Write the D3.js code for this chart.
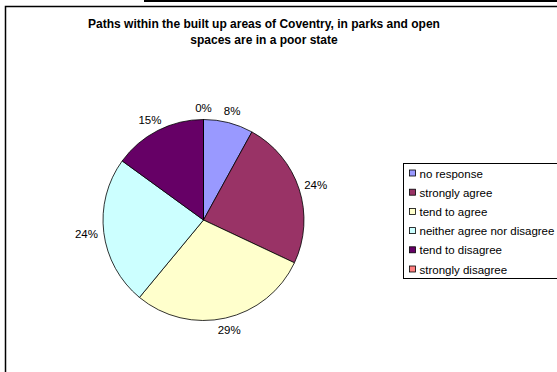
<!DOCTYPE html>
<html>
<head>
<meta charset="utf-8">
<script src="https://cdn.jsdelivr.net/npm/d3@7"></script>
<style>
  html, body { margin: 0; padding: 0; background: #fff; }
  svg { display: block; font-family: Arial, "Liberation Sans", sans-serif; }
</style>
</head>
<body>
<svg id="chart" width="557" height="372"></svg>
<script>
// Survey responses, in percent
const categories = ["no response", "strongly agree", "tend to agree",
                    "neither agree nor disagree", "tend to disagree", "strongly disagree"];
const values = [8, 24, 29, 24, 15, 0];
const colors = ["#9999FF", "#993366", "#FFFFCC", "#CCFFFF", "#660066", "#FF8080"];
const titleLines = ["Paths within the built up areas of Coventry, in parks and open",
                    "spaces are in a poor state"];

const svg = d3.select("#chart");

// page decoration: top rule and the chart frame
svg.append("rect").attr("x", 144).attr("y", 0).attr("width", 413).attr("height", 2).attr("fill", "#000");
svg.append("rect").attr("x", 5.5).attr("y", 6.5).attr("width", 600).attr("height", 400)
  .attr("fill", "#fff").attr("stroke", "#000").attr("stroke-width", 1.5);

// title
svg.append("text").attr("x", 264).attr("y", 28).attr("text-anchor", "middle")
  .attr("font-size", 12).attr("font-weight", "bold")
  .selectAll("tspan").data(titleLines).join("tspan")
  .attr("x", 264).attr("dy", (d, i) => i === 0 ? 0 : 16).text(d => d);

// pie
const cx = 203.5, cy = 220, r = 100.5;
const data = categories.map((c, i) => ({ cat: c, value: values[i], color: colors[i] }));
const pie = d3.pie().value(d => d.value).sort(null);
const arcs = pie(data);
const arc = d3.arc().innerRadius(0).outerRadius(r);

const g = svg.append("g").attr("transform", `translate(${cx},${cy})`);
g.selectAll("path").data(arcs).join("path")
  .attr("d", arc)
  .attr("fill", d => d.data.color)
  .attr("stroke", "#000").attr("stroke-width", 0.8);

// percentage labels outside each slice
const fmt = d => d3.format(".0f")(d) + "%";
const lbl = g.selectAll("text.lbl").data(arcs).join("text")
  .attr("class", "lbl")
  .attr("font-size", 11.5).attr("fill", "#000")
  .attr("text-anchor", "middle").attr("dominant-baseline", "central")
  .text(d => fmt(d.data.value));
lbl.each(function (d) {
  const a = (d.startAngle + d.endAngle) / 2;
  const bb = this.getBBox();
  const R = r + 6;
  const x = Math.sin(a) * (R + bb.width / 2);
  const y = -Math.cos(a) * (R + bb.height / 2);
  d3.select(this).attr("x", x).attr("y", y);
});

// legend
const lx = 403.5, ly = 163.5, rowH = 19.2;
svg.append("rect").attr("x", lx).attr("y", ly).attr("width", 200).attr("height", 115)
  .attr("fill", "#fff").attr("stroke", "#000").attr("stroke-width", 1);
const items = svg.append("g").selectAll("g").data(data).join("g")
  .attr("transform", (d, i) => `translate(${lx + 6},${ly + 10 + i * rowH})`);
items.append("rect").attr("x", 0).attr("y", -3.5).attr("width", 6).attr("height", 6)
  .attr("fill", d => d.color).attr("stroke", "#000").attr("stroke-width", 0.8);
items.append("text").attr("x", 10).attr("y", 0).attr("dominant-baseline", "central")
  .attr("font-size", 11.5).text(d => d.cat);
</script>
</body>
</html>
